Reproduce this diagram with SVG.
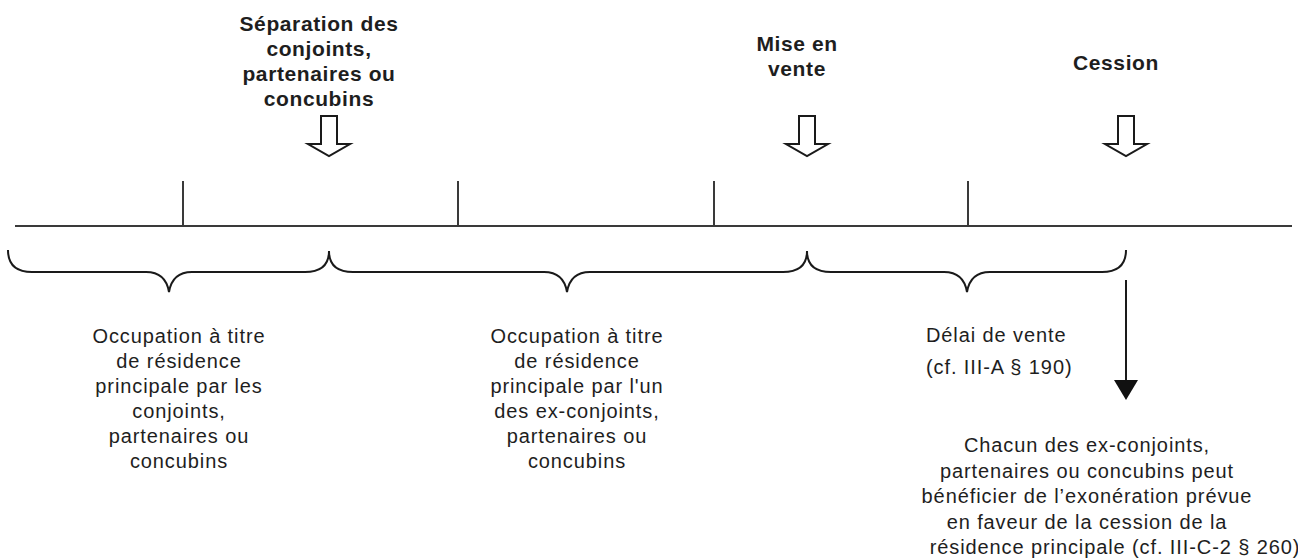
<svg xmlns="http://www.w3.org/2000/svg" width="1298" height="559" viewBox="0 0 1298 559">
<defs>
<style>
.b{font-family:"Liberation Sans",Arial,sans-serif;font-weight:bold;font-size:21px;letter-spacing:0.6px;fill:#1e1e1e;text-anchor:middle}
.r{font-family:"Liberation Sans",Arial,sans-serif;font-size:20px;letter-spacing:0.9px;fill:#1e1e1e;text-anchor:middle}
.ln{stroke:#3a3a3a;stroke-width:2;fill:none}
.br{stroke:#1a1a1a;stroke-width:2;fill:none}
.ha{stroke:#1a1a1a;stroke-width:2;fill:#fff;stroke-linejoin:miter}
</style>
<path id="harrow" d="M-8,116 L8,116 L8,144 L21,144 L0,156 L-21,144 L-8,144 Z"/>
</defs>
<rect width="1298" height="559" fill="#fff"/>

<g id="timeline">
<line class="ln" x1="15" y1="226" x2="1292" y2="226"/>
<line class="ln" x1="183" y1="181" x2="183" y2="226"/>
<line class="ln" x1="458" y1="181" x2="458" y2="226"/>
<line class="ln" x1="714" y1="181" x2="714" y2="226"/>
<line class="ln" x1="968" y1="181" x2="968" y2="226"/>
</g>

<g id="event-separation">
<text class="b"><tspan x="319" y="31">Séparation des</tspan><tspan x="319" y="56">conjoints,</tspan><tspan x="319" y="81">partenaires ou</tspan><tspan x="319" y="106">concubins</tspan></text>
<use href="#harrow" class="ha" transform="translate(329,0)"/>
</g>

<g id="event-mise-en-vente">
<text class="b"><tspan x="797" y="51">Mise en</tspan><tspan x="797" y="76">vente</tspan></text>
<use href="#harrow" class="ha" transform="translate(807,0)"/>
</g>

<g id="event-cession">
<text class="b" x="1116" y="70">Cession</text>
<use href="#harrow" class="ha" transform="translate(1126,0)"/>
</g>

<g id="period-1">
<path class="br" d="M8,250 C8,265 16,272 32,272 L146,272 C160,272 167,280 169,292 C171,280 178,272 192,272 L305,272 C321,272 329,265 329,251"/>
<text class="r"><tspan x="179" y="343">Occupation à titre</tspan><tspan x="179" y="368">de résidence</tspan><tspan x="179" y="393">principale par les</tspan><tspan x="179" y="418">conjoints,</tspan><tspan x="179" y="443">partenaires ou</tspan><tspan x="179" y="468">concubins</tspan></text>
</g>

<g id="period-2">
<path class="br" d="M329,251 C329,265 337,272 353,272 L544,272 C558,272 565,280 567,292 C569,280 576,272 590,272 L783,272 C799,272 807,265 807,251"/>
<text class="r"><tspan x="577" y="343">Occupation à titre</tspan><tspan x="577" y="368">de résidence</tspan><tspan x="577" y="393">principale par l'un</tspan><tspan x="577" y="418">des ex-conjoints,</tspan><tspan x="577" y="443">partenaires ou</tspan><tspan x="577" y="468">concubins</tspan></text>
</g>

<g id="period-3">
<path class="br" d="M807,251 C807,265 815,272 831,272 L944,272 C958,272 965,280 967,292 C969,280 976,272 990,272 L1102,272 C1118,272 1126,265 1126,250"/>
<text class="r" style="text-anchor:start"><tspan x="926" y="342">Délai de vente</tspan><tspan x="926" y="374">(cf. III-A § 190)</tspan></text>
</g>

<g id="connectors">
<line class="br" x1="1126" y1="280" x2="1126" y2="382"/>
<polygon points="1114,380 1138,380 1126,400" fill="#111"/>
</g>

<g id="result">
<text class="r"><tspan x="1087" y="452">Chacun des ex-conjoints,</tspan><tspan x="1087" y="477.5">partenaires ou concubins peut</tspan><tspan x="1087" y="503">bénéficier de l’exonération prévue</tspan><tspan x="1087" y="528.5">en faveur de la cession de la</tspan><tspan x="1115" y="554">résidence principale (cf. III-C-2 § 260)</tspan></text>
</g>
</svg>
